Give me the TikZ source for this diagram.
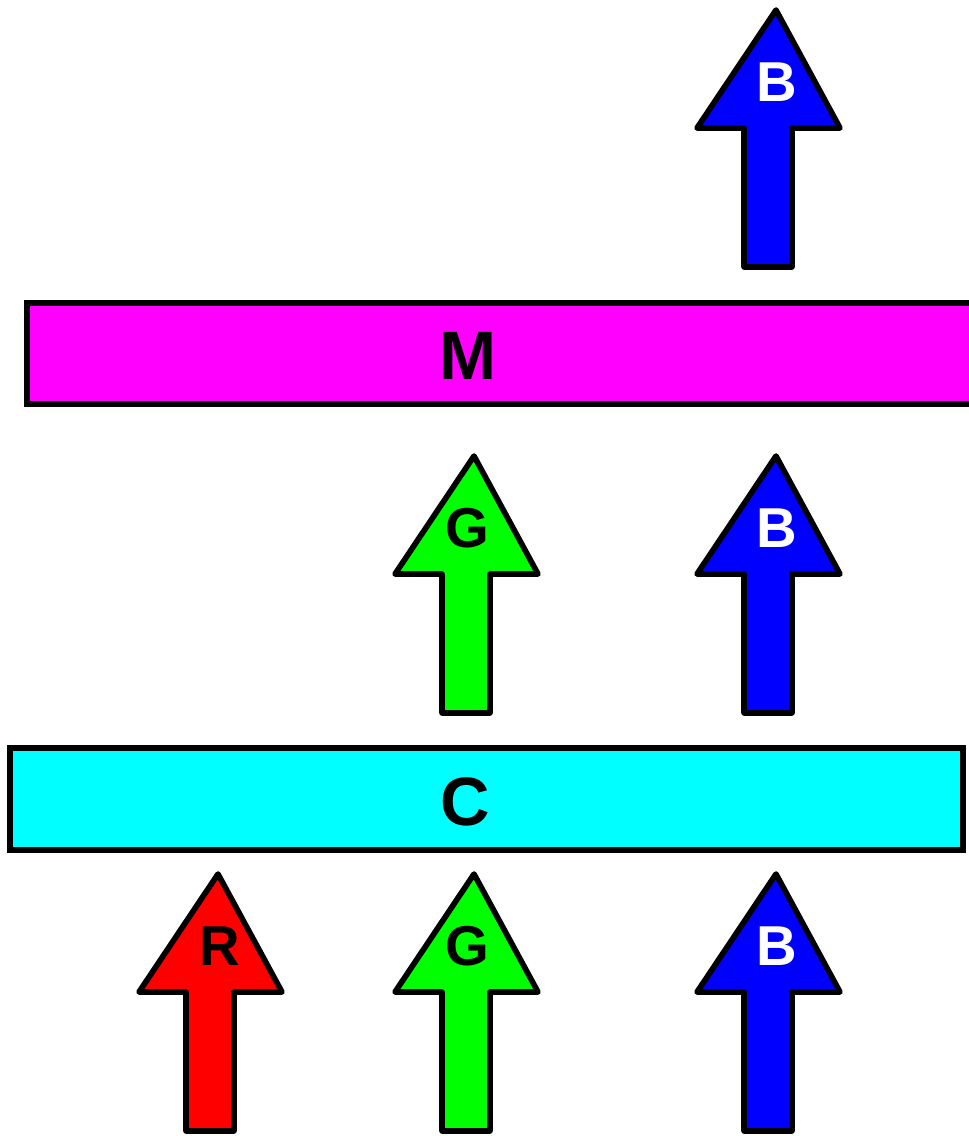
\documentclass[tikz,border=0pt]{standalone}
\usepackage{fontspec}
\setmainfont{Liberation Sans}

\definecolor{red}{rgb}{1,0,0}
\definecolor{green}{rgb}{0,1,0}
\definecolor{blue}{rgb}{0,0,1}
\definecolor{magenta}{rgb}{1,0,1}
\definecolor{cyan}{rgb}{0,1,1}

\tikzset{
  bar/.style={draw=black, line width=3.2pt},
  blockarrow/.style={draw=black, line width=3.2pt, line join=round},
  arrowlabel/.style={font=\fontsize{32}{32}\selectfont\bfseries, inner sep=0pt},
  barlabel/.style={font=\fontsize{39}{39}\selectfont\bfseries, inner sep=0pt}
}

\begin{document}
\begin{tikzpicture}[x=0.02cm, y=-0.02cm]
\clip (0,0) rectangle (969,1136);

% the two filter bars
\filldraw[bar, fill=magenta] (27,303) rectangle (1000,404);
\node[barlabel] (M) at (468,356) {M};
\filldraw[bar, fill=cyan] (10,748) rectangle (963,850);
\node[barlabel] (C) at (465,802) {C};

% block arrows: name / column / bottom / label x / fill / letter / letter colour
\foreach \n/\x/\y/\lx/\c/\t/\tc in {
    rR/210/1131/220/red/R/black,
    rG/466/1131/467/green/G/black,
    rB/768/1131/777/blue/B/white,
    gG/466/713/467/green/G/black,
    gB/768/713/777/blue/B/white,
    bB/768/267/777/blue/B/white}
{
  \filldraw[blockarrow, fill=\c] (\x-24,\y) -- (\x-24,\y-139) -- (\x-71,\y-139)
    -- (\x+8,\y-257) -- (\x+72,\y-139) -- (\x+24,\y-139) -- (\x+24,\y) -- cycle;
  \node[arrowlabel, text=\tc] (\n) at (\lx,\y-185) {\t};
}

\end{tikzpicture}
\end{document}
